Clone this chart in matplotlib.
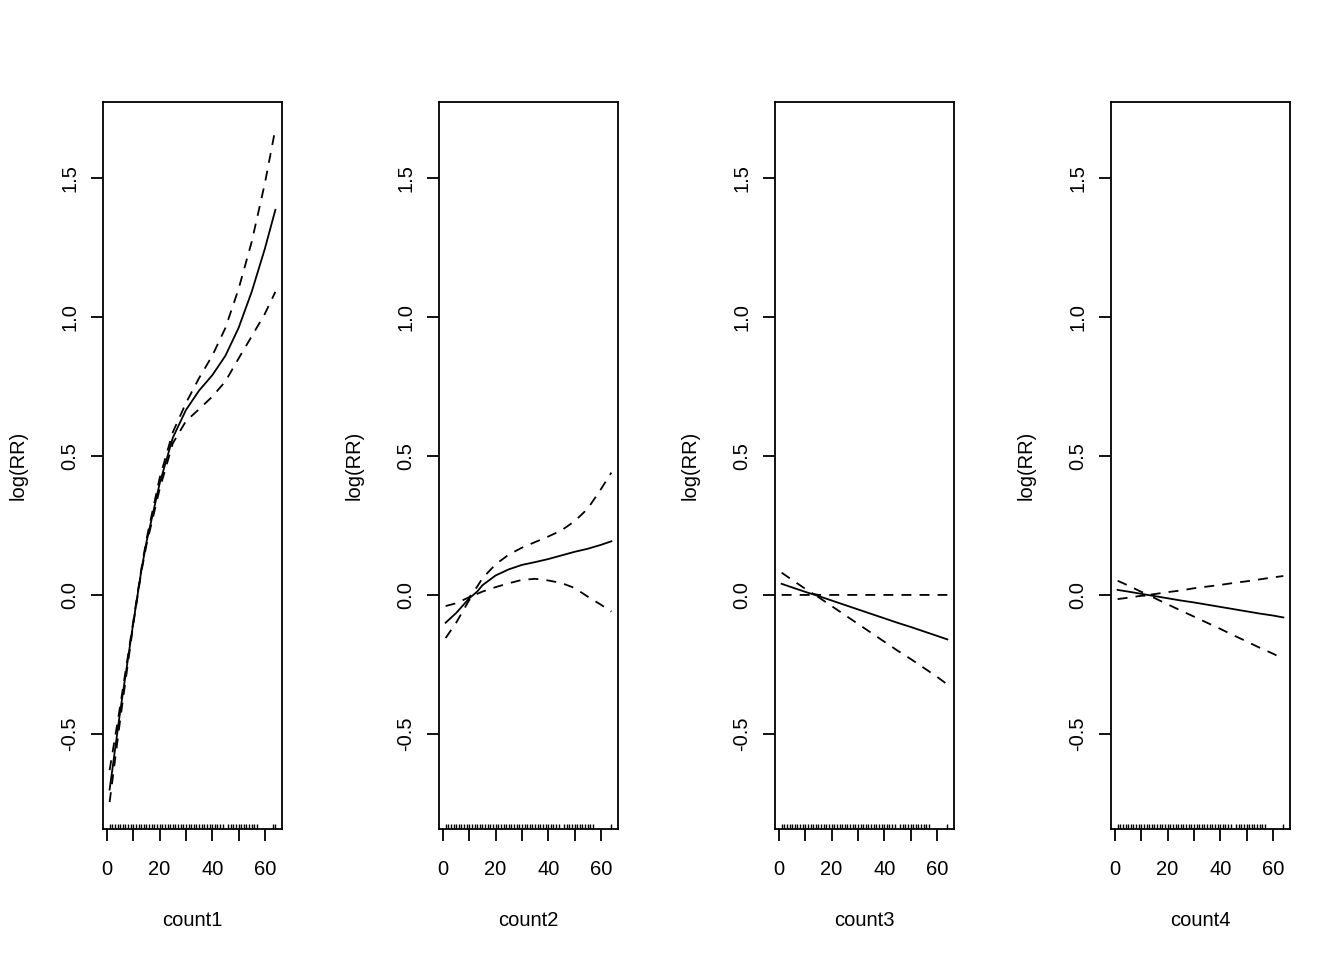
import numpy as np
import matplotlib.pyplot as plt

plt.rcParams['font.family'] = ['Liberation Sans', 'DejaVu Sans']
plt.rcParams['axes.unicode_minus'] = False

x = [1, 5, 10, 13, 15, 20, 25, 30, 35, 40, 45, 50, 55, 60, 64]

# count1
fit1 = [-0.70, -0.42, -0.10, 0.085, 0.19, 0.40, 0.565, 0.665, 0.735, 0.79, 0.86, 0.96, 1.09, 1.245, 1.385]
upp1 = [-0.63, -0.40, -0.095, 0.09, 0.20, 0.42, 0.585, 0.69, 0.78, 0.86, 0.96, 1.10, 1.27, 1.48, 1.676]
low1 = [-0.745, -0.45, -0.105, 0.08, 0.18, 0.38, 0.545, 0.625, 0.668, 0.713, 0.768, 0.85, 0.93, 1.011, 1.09]

# count2
fit2 = [-0.10, -0.065, -0.012, 0.012, 0.035, 0.07, 0.092, 0.108, 0.118, 0.129, 0.142, 0.155, 0.166, 0.180, 0.193]
upp2 = [-0.04, -0.03, -0.008, 0.03, 0.06, 0.11, 0.145, 0.17, 0.19, 0.21, 0.232, 0.265, 0.31, 0.38, 0.44]
low2 = [-0.155, -0.10, -0.018, 0.004, 0.012, 0.028, 0.042, 0.054, 0.058, 0.052, 0.043, 0.025, -0.006, -0.035, -0.06]

# count3
fit3 = [0.040, 0.027, 0.011, 0.002, -0.004, -0.020, -0.036, -0.052, -0.068, -0.084, -0.100, -0.115, -0.131, -0.147, -0.160]
upp3 = [0.080, 0.054, 0.022, 0.004, 0.0, 0.0, 0.0, 0.0, 0.0, 0.0, 0.0, 0.0, 0.0, 0.0, 0.0]
low3 = [0.0, 0.0, 0.0, 0.0, -0.008, -0.040, -0.072, -0.104, -0.136, -0.168, -0.200, -0.230, -0.262, -0.294, -0.322]

# count4
fit4 = [0.018, 0.012, 0.004, -0.001, -0.004, -0.012, -0.020, -0.027, -0.035, -0.043, -0.051, -0.059, -0.067, -0.074, -0.081]
upp4 = [0.051, 0.034, 0.011, 0.0005, 0.003, 0.010, 0.016, 0.024, 0.030, 0.036, 0.043, 0.049, 0.056, 0.063, 0.068]
low4 = [-0.015, -0.010, -0.003, -0.0025, -0.011, -0.034, -0.056, -0.078, -0.100, -0.122, -0.145, -0.167, -0.190, -0.211, -0.230]

# observed values shown as rug
rug_main = list(range(1, 45)) + list(range(46, 58))
rug1 = rug_main + [63, 64]
rug2 = rug_main + [64]
rug3 = rug_main + [64]
rug4 = rug_main + [64]

names = ["count1", "count2", "count3", "count4"]
fits = [fit1, fit2, fit3, fit4]
upps = [upp1, upp2, upp3, upp4]
lows = [low1, low2, low3, low4]
rugs = [rug1, rug2, rug3, rug4]

# R style axis ranges (data range + 4%)
xr = max(x) - min(x)
xlim = (min(x) - 0.04 * xr, max(x) + 0.04 * xr)
ylo = min(min(l) for l in lows)
yhi = max(max(u) for u in upps)
yr = yhi - ylo
ylim = (ylo - 0.04 * yr, yhi + 0.04 * yr)

fig = plt.figure(figsize=(13.44, 9.6), dpi=100)
lefts = [103, 439, 775, 1111]
dash = (0, (5.5, 4.5))

for i in range(4):
    ax = fig.add_axes([lefts[i] / 1344, 1 - 829 / 960, 179 / 1344, 727 / 960])
    ax.plot(x, fits[i], color="black", lw=1.3)
    ax.plot(x, upps[i], color="black", lw=1.3, linestyle=dash)
    ax.plot(x, lows[i], color="black", lw=1.3, linestyle=dash)
    ax.vlines(rugs[i], 0, 0.007, transform=ax.get_xaxis_transform(), color="black", lw=1)

    ax.set_xlim(xlim)
    ax.set_ylim(ylim)
    ax.set_xticks([0, 10, 20, 30, 40, 50, 60])
    ax.set_xticklabels(["0", "", "20", "", "40", "", "60"])
    ax.set_yticks([-0.5, 0.0, 0.5, 1.0, 1.5])
    ax.set_yticklabels(["-0.5", "0.0", "0.5", "1.0", "1.5"], rotation=90, va="center")
    ax.tick_params(direction="out", length=8.6, width=1.3, labelsize=14.5, color="black")
    ax.tick_params(axis="x", pad=14)
    ax.tick_params(axis="y", pad=8.5)
    for s in ax.spines.values():
        s.set_linewidth(1.3)

    ax.set_xlabel(names[i], fontsize=14.5, va="center")
    ax.xaxis.set_label_coords(0.5, (829 - 921) / 727)
    ax.set_ylabel("log(RR)", fontsize=14.5, va="center")
    ax.yaxis.set_label_coords(-85 / 179, 0.5)

plt.savefig("out.png", dpi=100)
plt.close()
